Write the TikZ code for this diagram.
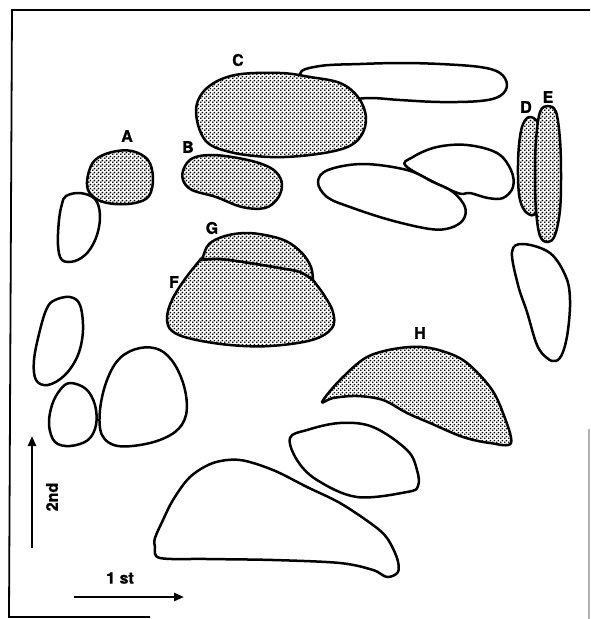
\documentclass[tikz,border=0pt]{standalone}
\usepackage{fontspec}
\setmainfont{TeX Gyre Heros}
\newfontfamily\heavy{texgyreheros-bold}[Extension=.otf, FakeBold=1.2]
\usetikzlibrary{patterns,arrows.meta}
\pgfdeclarepatternformonly{stipple}{\pgfpointorigin}{\pgfpoint{4pt}{4pt}}{\pgfpoint{4pt}{4pt}}{%
  \pgfpathcircle{\pgfpoint{1pt}{1pt}}{1.1pt}%
  \pgfpathcircle{\pgfpoint{3pt}{3pt}}{1.1pt}%
  \pgfusepath{fill}}
\begin{document}
\begin{tikzpicture}[x=1pt,y=-1pt,
  blob/.style={draw=black, line width=2.5pt, fill=white, line join=round},
  shaded/.style={draw=black, line width=2.5pt, preaction={fill=white}, pattern=stipple, line join=round},
  lbl/.style={font=\heavy\fontsize{16}{16}\selectfont, inner sep=0pt},
  axis/.style={line width=2.5pt, -{Triangle[length=10pt,width=8pt]}}]
\useasboundingbox (0,0) rectangle (590,619);
% frame
\draw[line width=1.8pt] (590,10) -- (12,10) -- (9,617) -- (150,617);
\draw[line width=1.2pt, gray!60] (589,429) -- (589,619);
% long blob behind C
\draw[blob] plot[smooth cycle, tension=0.6] coordinates {(300,74) (320,66) (360,64) (400,63) (440,64) (480,67) (500,73) (507,85) (500,96) (480,101) (440,102) (400,100) (370,98) (340,100) (320,95)};
% C
\draw[shaded] plot[smooth cycle, tension=0.6] coordinates {(196,110) (207,88) (235,75) (280,73) (310,77) (340,83) (358,97) (366,117) (361,136) (345,148) (310,155) (270,157) (230,152) (205,140)};
\node[lbl] (C) at (238,60) {C};
% A
\draw[shaded] plot[smooth cycle, tension=0.6] coordinates {(88,175) (95,160) (112,152) (132,151) (148,160) (153,178) (149,196) (135,203) (115,204) (98,200) (88,190)};
\node[lbl] (A) at (127,136) {A};
% blob below A
\draw[blob] plot[smooth cycle, tension=0.6] coordinates {(66,196) (80,193) (95,199) (100,215) (97,235) (88,252) (75,261) (62,260) (58,245) (59,220) (62,204)};
% B
\draw[shaded] plot[smooth cycle, tension=0.6] coordinates {(184,168) (193,158) (212,155) (238,158) (262,164) (276,172) (282,184) (278,198) (265,208) (242,207) (216,197) (192,190) (183,180)};
\node[lbl] (B) at (188,147) {B};
% F
\draw[shaded] plot[smooth, tension=0.6] coordinates {(200,260) (220,259) (250,263) (280,268) (300,272) (313,280)}
  -- plot[smooth, tension=0.6] coordinates {(313,280) (324,295) (333,312) (332,328) (312,340) (270,346) (230,345) (192,339) (172,331) (167,318) (172,300) (185,279) (200,260)} -- cycle;
% G
\draw[shaded] plot[smooth, tension=0.6] coordinates {(203,257) (209,244) (225,236) (245,233) (265,235) (286,241) (302,253) (311,267) (313,280)}
  -- plot[smooth, tension=0.6] coordinates {(313,280) (300,272) (280,268) (250,263) (220,259) (200,260)} -- cycle;
\node[lbl] (G) at (212,228) {G};
\node[lbl] (F) at (174,282) {F};
% upper middle blob
\draw[blob] plot[smooth cycle, tension=0.6] coordinates {(407,167) (413,157) (437,147) (467,145) (497,153) (511,170) (513,187) (503,198) (488,198) (470,193) (455,192)};
% lower middle blob
\draw[blob] plot[smooth cycle, tension=0.6] coordinates {(318,182) (328,170) (363,164) (407,170) (433,182) (453,192) (465,207) (463,220) (450,228) (430,229) (390,220) (350,207) (327,197)};
% D and E
\draw[shaded] plot[smooth cycle, tension=0.6] coordinates {(531,117) (523,124) (519,145) (518,175) (520,200) (527,213) (536,212) (540,180) (540,130)};
\draw[shaded] plot[smooth cycle, tension=0.6] coordinates {(548,106) (556,112) (560,140) (561,175) (560,210) (555,235) (548,242) (540,236) (536,210) (535,175) (536,140) (540,112)};
\node[lbl] (D) at (526,107) {D};
\node[lbl] (E) at (548,97) {E};
% right blob
\draw[blob] plot[smooth cycle, tension=0.6] coordinates {(512,252) (523,244) (550,253) (566,277) (570,300) (568,330) (563,352) (556,361) (547,358) (537,345) (527,312) (518,285)};
% left column blobs
\draw[blob] plot[smooth cycle, tension=0.6] coordinates {(55,300) (70,297) (80,305) (83,330) (78,355) (65,375) (48,385) (36,380) (34,360) (40,330) (47,308)};
\draw[blob] plot[smooth cycle, tension=0.6] coordinates {(70,383) (86,389) (95,405) (96,425) (88,440) (70,446) (55,442) (49,425) (52,405) (60,390)};
\draw[blob] plot[smooth cycle, tension=0.6] coordinates {(140,348) (160,350) (175,365) (185,390) (186,415) (175,432) (150,443) (118,446) (102,435) (100,410) (107,380) (120,358)};
% H
\draw[shaded] plot[smooth cycle, tension=0.55] coordinates {(322,402) (340,380) (367,357) (400,348) (430,348) (463,360) (490,387) (503,413) (511,443) (490,443) (463,437) (430,423) (407,413) (383,400) (357,396) (333,398)};
\node[lbl] (H) at (420,333) {H};
% middle lower blob
\draw[blob] plot[smooth cycle, tension=0.6] coordinates {(290,438) (297,460) (317,480) (357,497) (407,492) (418,486) (417,470) (407,450) (373,427) (340,423) (307,430)};
% bottom big blob
\draw[blob] plot[smooth cycle, tension=0.55] coordinates {(155,547) (160,558) (207,559) (273,560) (340,563) (373,570) (387,577) (398,572) (397,558) (387,538) (373,525) (340,503) (307,487) (273,470) (240,460) (213,463) (190,477) (173,500) (163,520) (155,538)};
% axes
\coordinate (v0) at (32,548);
\coordinate (v1) at (32,436);
\draw[axis] (v0) -- (v1);
\node[lbl, rotate=90] (nd) at (52,497) {2nd};
\coordinate (h0) at (74,597);
\coordinate (h1) at (184,597);
\draw[axis] (h0) -- (h1);
\node[lbl] (st) at (120,578) {1 st};
\end{tikzpicture}
\end{document}
